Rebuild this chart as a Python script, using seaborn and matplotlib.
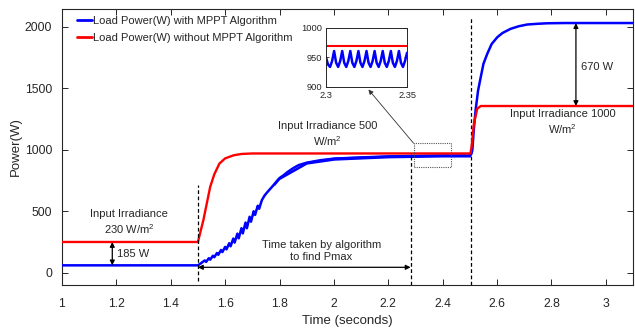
import numpy as np
import pandas as pd
import matplotlib
matplotlib.use("Agg")
import matplotlib.pyplot as plt
import seaborn as sns
from matplotlib.patches import Rectangle

# values
blue_t = [1.00, 1.50, 1.51, 1.525, 1.53, 1.54, 1.545, 1.555, 1.56, 1.57, 1.575,
          1.585, 1.59, 1.60, 1.605, 1.615, 1.62, 1.63, 1.635, 1.645, 1.65, 1.66,
          1.665, 1.675, 1.68, 1.69, 1.695, 1.705, 1.71, 1.72, 1.725, 1.735, 1.745,
          1.755, 1.765, 1.775, 1.79, 1.80, 1.815, 1.83, 1.85, 1.87, 1.90, 1.95,
          2.00, 2.10, 2.20, 2.30, 2.40, 2.502, 2.506, 2.509, 2.515, 2.521, 2.53,
          2.54, 2.55, 2.564, 2.58, 2.601, 2.62, 2.65, 2.68, 2.711, 2.75, 2.785,
          2.85, 3.10]
blue_p = [60, 60, 75, 100, 88, 118, 106, 138, 126, 160, 146,
          185, 168, 210, 190, 240, 215, 278, 245, 318, 280, 362,
          320, 408, 362, 455, 415, 500, 470, 545, 520, 590, 628,
          655, 680, 705, 745, 770, 793, 820, 850, 875, 895, 915,
          928, 938, 946, 950, 953, 953, 970, 996, 1180, 1320, 1480,
          1591, 1700, 1781, 1860, 1916, 1950, 1984, 2005, 2019, 2025, 2029,
          2031, 2031]

# ripple envelope of the blue trace in the steady part
band_t = [1.78, 1.80, 1.90, 2.00, 2.20, 2.40, 2.502]
band_lo = [706, 758, 883, 915, 934, 941, 941]
band_hi = [730, 782, 907, 941, 958, 965, 965]

red_t = [1.00, 1.50, 1.51, 1.52, 1.535, 1.545, 1.56, 1.579, 1.60, 1.631, 1.66, 1.70,
         2.502, 2.506, 2.515, 2.527, 2.54, 3.10]
red_p = [250, 250, 340, 428, 590, 698, 800, 888, 930, 955, 966, 970,
         970, 1020, 1213, 1334, 1356, 1356]

# zoomed window 2.3 - 2.35 s
inset_t = [2.3, 2.30125, 2.3025, 2.30375, 2.305, 2.30625, 2.3075, 2.30875, 2.31,
           2.31125, 2.3125, 2.31375, 2.315, 2.31625, 2.3175, 2.31875, 2.32,
           2.32125, 2.3225, 2.32375, 2.325, 2.32625, 2.3275, 2.32875, 2.33,
           2.33125, 2.3325, 2.33375, 2.335, 2.33625, 2.3375, 2.33875, 2.34,
           2.34125, 2.3425, 2.34375, 2.345, 2.34625, 2.3475, 2.34875, 2.35]
inset_blue = [950, 938, 934, 944, 961, 941, 934, 944, 961, 941, 934, 944,
              961, 941, 934, 944, 961, 941, 934, 944, 961, 941, 934, 944,
              961, 941, 934, 944, 961, 941, 934, 944, 961, 941, 934, 944,
              961, 941, 934, 944, 958]
inset_red = [970, 970]
inset_red_t = [2.3, 2.35]

x_ticks = [1, 1.2, 1.4, 1.6, 1.8, 2, 2.2, 2.4, 2.6, 2.8, 3]
x_labels = ["1", "1.2", "1.4", "1.6", "1.8", "2", "2.2", "2.4", "2.6", "2.8", "3"]
y_ticks = [0, 500, 1000, 1500, 2000]

sns.set_theme(style="ticks")
plt.rcParams["font.family"] = ["Liberation Sans", "DejaVu Sans"]
plt.rcParams["mathtext.fontset"] = "custom"
plt.rcParams["mathtext.rm"] = "Liberation Sans"
plt.rcParams["mathtext.default"] = "regular"

dark = "#262626"

fig = plt.figure(figsize=(6.35, 3.29), dpi=100)
ax = fig.add_axes([0.0976, 0.1337, 0.8993, 0.8389])

df_blue = pd.DataFrame({"t": blue_t, "p": blue_p})
df_red = pd.DataFrame({"t": red_t, "p": red_p})

ax.fill_between(band_t, band_lo, band_hi, color="#0000ff", lw=0, zorder=3)
sns.lineplot(data=df_blue, x="t", y="p", color="#0000ff", lw=1.8, ax=ax,
             label="Load Power(W) with MPPT Algorithm", zorder=3)
sns.lineplot(data=df_red, x="t", y="p", color="#ff0000", lw=1.7, ax=ax,
             label="Load Power(W) without MPPT Algorithm", zorder=4)

ax.set_xlim(1, 3.1)
ax.set_ylim(-100, 2145)
ax.set_xticks(x_ticks)
ax.set_xticklabels(x_labels)
ax.set_yticks(y_ticks)
ax.set_xlabel("Time (seconds)", fontsize=9.5, color=dark, labelpad=4)
ax.set_ylabel("Power(W)", fontsize=9.5, color=dark, labelpad=2)
ax.tick_params(direction="in", top=True, right=True, length=4, width=0.7,
               labelsize=8.7, colors=dark, pad=7)
ax.tick_params(axis="x", pad=9)
for s in ax.spines.values():
    s.set_color(dark)
    s.set_linewidth(0.8)

leg = ax.legend(loc="upper left", bbox_to_anchor=(0.026, 0.975), frameon=False,
                fontsize=8, handlelength=1.35, handletextpad=0.15,
                labelspacing=0.65, borderpad=0, borderaxespad=0)
for line in leg.get_lines():
    line.set_linewidth(2)

# dashed markers
dash = (0, (3, 2))
ax.plot([1.5, 1.5], [-65, 712], color="black", lw=0.9, ls=dash, zorder=5)
ax.plot([2.282, 2.282], [-100, 975], color="black", lw=0.9, ls=dash, zorder=5)
ax.plot([2.503, 2.503], [-100, 2075], color="black", lw=0.9, ls=dash, zorder=2)

ax.add_patch(Rectangle((2.293, 857), 0.137, 196, fill=False, ec="#555555",
                       lw=0.8, ls=(0, (1, 1)), zorder=6))
ax.annotate("", xy=(2.127, 1490), xytext=(2.293, 1053),
            arrowprops=dict(arrowstyle="-|>", color="#333333", lw=0.6,
                            mutation_scale=7, shrinkA=0, shrinkB=0))

arrow = dict(arrowstyle="<|-|>", color="black", lw=0.9, mutation_scale=7,
             shrinkA=0, shrinkB=0)
ax.annotate("", xy=(1.185, 250), xytext=(1.185, 60), arrowprops=arrow)
ax.annotate("", xy=(2.89, 2030), xytext=(2.89, 1356), arrowprops=arrow)
ax.annotate("", xy=(1.5, 44), xytext=(2.282, 44), arrowprops=arrow)

txt = dict(fontsize=8, color=dark, linespacing=1.25)
ax.text(1.247, 410, "Input Irradiance\n230 W/m$^{2}$", ha="center", va="center", **txt)
ax.text(1.203, 152, "185 W", ha="left", va="center", **txt)
ax.text(1.954, 175, "Time taken by algorithm\nto find Pmax", ha="center", va="center", **txt)
ax.text(1.976, 1125, "Input Irradiance 500\nW/m$^{2}$", ha="center", va="center", **txt)
ax.text(2.84, 1222, "Input Irradiance 1000\nW/m$^{2}$", ha="center", va="center", **txt)
ax.text(2.908, 1670, "670 W", ha="left", va="center", **txt)

# inset
axi = fig.add_axes([0.5134, 0.7356, 0.1276, 0.1793])
sns.lineplot(x=inset_t, y=inset_blue, color="#0000ff", lw=1.8, ax=axi)
sns.lineplot(x=inset_red_t, y=inset_red, color="#ff0000", lw=1.5, ax=axi)
axi.set_xlim(2.3, 2.35)
axi.set_ylim(900, 1000)
axi.set_xticks([2.3, 2.35])
axi.set_xticklabels(["2.3", "2.35"])
axi.set_yticks([900, 950, 1000])
axi.tick_params(direction="in", top=True, right=True, length=2.5, width=0.6,
                labelsize=6.7, colors=dark, pad=3)
axi.set_xlabel("")
axi.set_ylabel("")
for s in axi.spines.values():
    s.set_color(dark)
    s.set_linewidth(0.7)

fig.savefig("out.png", dpi=100)
